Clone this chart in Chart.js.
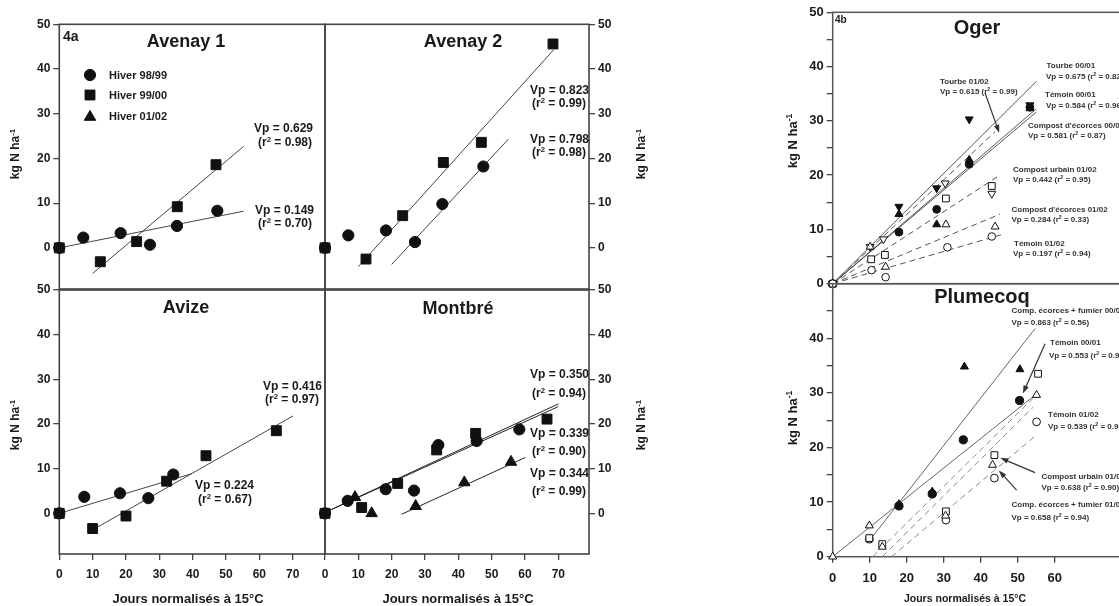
<!DOCTYPE html>
<html lang="fr">
<head>
<meta charset="UTF-8">
<title>Minéralisation de l'azote - Vp</title>
<script src="https://cdnjs.cloudflare.com/ajax/libs/Chart.js/4.4.1/chart.umd.min.js"></script>
<style>
  html, body { margin: 0; padding: 0; width: 1119px; height: 606px; overflow: hidden; background: #fff; }
  #stage { position: relative; width: 1119px; height: 606px; overflow: hidden; font-family: "Liberation Sans", Arial, sans-serif; }
  #stage canvas { position: absolute; left: 0; top: 0; }
  .lbl { position: absolute; white-space: nowrap; line-height: 1; font-weight: bold; color: #1a1a1a; transform: translateY(-50%); }
  .lbl.c { transform: translate(-50%, -50%); }
  .lbl.rot { transform: translate(-50%, -50%) rotate(-90deg); }
  .lbl.small { color: #333; }
  sup { font-size: 65%; vertical-align: 0.5em; line-height: 0; }
</style>
</head>
<body>
<div id="stage">
  <canvas id="avenay1" width="1200" height="606"></canvas>
  <canvas id="avenay2" width="1200" height="606"></canvas>
  <canvas id="avize" width="1200" height="606"></canvas>
  <canvas id="montbre" width="1200" height="606"></canvas>
  <canvas id="oger" width="1200" height="606"></canvas>
  <canvas id="plumecoq" width="1200" height="606"></canvas>
</div>
<script>
// ---------- ticks ----------
const xTicks4a = [0, 10, 20, 30, 40, 50, 60, 70];
const yTicks4a = [0, 10, 20, 30, 40, 50];
const xTicks4b = [0, 10, 20, 30, 40, 50, 60];
const yTicks4b = [0, 5, 10, 15, 20, 25, 30, 35, 40, 45, 50];
const yLabelsOger = [0, 10, 20, 30, 40, 50];
const yLabelsPlumecoq = [0, 10, 20, 30, 40];

// ---------- 4a : Avenay 1 ----------
const av1Hiver9899 = [[0, 0], [7.2, 2.3], [18.4, 3.3], [27.2, 0.7], [35.3, 4.9], [47.4, 8.3]];
const av1Hiver9900 = [[0, 0], [12.3, -3.1], [23.2, 1.4], [35.4, 9.2], [47.0, 18.6]];
const av1Fit9899 = [[0, 0], [55.3, 8.2]];
const av1Fit9900 = [[10.0, -5.7], [55.3, 22.7]];

// ---------- 4a : Avenay 2 ----------
const av2Hiver9899 = [[0, 0], [7.0, 2.8], [18.3, 3.9], [27.0, 1.3], [35.2, 9.8], [47.5, 18.2]];
const av2Hiver9900 = [[0, 0], [12.3, -2.5], [23.3, 7.2], [35.5, 19.1], [46.9, 23.6], [68.4, 45.6]];
const av2Fit9900 = [[10.0, -4.2], [68.6, 44.3]];
const av2Fit9899 = [[20.0, -3.7], [55.0, 24.3]];

// ---------- 4a : Avize ----------
const avzHiver9899 = [[0, 0], [7.5, 3.7], [18.2, 4.5], [26.7, 3.4], [34.2, 8.7]];
const avzHiver9900 = [[0, 0], [10.0, -3.4], [20.0, -0.6], [32.2, 7.2], [44.0, 12.9], [65.1, 18.5]];
const avzFit9899 = [[0, 0], [39.8, 8.9]];
const avzFit9900 = [[10.0, -3.7], [70.1, 21.8]];

// ---------- 4a : Montbré ----------
const mtbHiver9899 = [[0, 0], [6.8, 2.8], [18.2, 5.4], [26.7, 5.1], [34.0, 15.3], [45.5, 16.2], [58.3, 18.8]];
const mtbHiver9900 = [[0, 0], [11.0, 1.3], [21.8, 6.7], [33.5, 14.2], [45.2, 17.9], [66.6, 21.1]];
const mtbHiver0102 = [[9.0, 3.6], [14.0, 0.0], [27.2, 1.6], [41.8, 6.9], [55.8, 11.5]];
const mtbFit9900 = [[0, 0.2], [70.0, 24.5]];
const mtbFit9899 = [[0, 0.2], [70.0, 23.9]];
const mtbFit0102 = [[23.0, -0.2], [60.1, 12.5]];

// ---------- 4b : Oger ----------
const ogTemoin0001 = [[0, 0], [17.9, 9.5], [28.1, 13.7], [36.9, 22.0], [53.3, 32.5]];
const ogCompEcorces0001 = [[0, 0], [17.9, 12.8], [28.1, 10.9], [36.9, 22.8], [53.3, 32.3]];
const ogTourbe0001 = [[0, 0], [17.9, 14.2], [28.1, 17.6], [36.9, 30.3], [53.3, 32.9]];
const ogTemoin0102 = [[0, 0], [10.5, 2.5], [14.3, 1.2], [31.0, 6.7], [43.0, 8.7]];
const ogCompEcorces0102 = [[0, 0], [10.1, 6.8], [14.3, 3.1], [30.6, 10.9], [43.9, 10.5]];
const ogCompUrbain0102 = [[0, 0], [10.4, 4.5], [14.1, 5.3], [30.6, 15.7], [43.0, 18.0]];
const ogTourbe0102 = [[0, 0], [10.1, 6.8], [13.7, 8.2], [30.4, 18.5], [43.0, 16.6]];
const ogFitTourbe0001 = [[0, 0], [55.1, 37.3]];
const ogFitTemoin0001 = [[0, 0], [55.0, 32.2]];
const ogFitCompEcorces0001 = [[0, 0], [55.0, 31.6]];
const ogFitTourbe0102 = [[0, 0], [43.9, 28.0]];
const ogFitCompUrbain0102 = [[0, 0], [45.2, 20.0]];
const ogFitCompEcorces0102 = [[0, 0], [45.2, 12.8]];
const ogFitTemoin0102 = [[0, 0], [45.5, 9.0]];
const ogArrows = [[[41.2, 35.1], [45.0, 27.8]]];

// ---------- 4b : Plumecoq ----------
const pqCEF0001 = [[17.9, 9.6], [26.9, 11.9], [35.6, 34.8], [50.6, 34.3]];
const pqTemoin0001 = [[17.9, 9.3], [26.9, 11.5], [35.3, 21.4], [50.5, 28.6]];
const pqTemoin0102 = [[9.9, 3.2], [30.6, 6.7], [43.7, 14.4], [55.1, 24.7]];
const pqCompUrbain0102 = [[9.9, 3.4], [13.4, 2.3], [30.6, 8.3], [43.7, 18.6], [55.5, 33.5]];
const pqCEF0102 = [[0, 0], [9.9, 5.7], [13.4, 1.8], [30.5, 7.5], [43.2, 16.8], [55.1, 29.6]];
const pqFitCEF0001 = [[10.0, 3.0], [54.7, 41.8]];
const pqFitTemoin0001 = [[0, 0], [54.7, 29.6]];
const pqFitCompUrbain0102 = [[10.8, 0], [54.1, 29.0]];
const pqFitCEF0102 = [[13.4, 0], [54.2, 27.4]];
const pqFitTemoin0102 = [[15.9, 0], [55.1, 22.3]];
const pqArrows = [
  [[57.4, 39.0], [51.4, 29.9]],
  [[54.7, 15.4], [45.3, 18.1]],
  [[49.7, 12.2], [44.9, 15.8]]
];

// ---------- helpers ----------
const FONT = '"Liberation Sans", Arial, sans-serif';
const CW = 1200, CH = 606, AXIS_W = 40, AXIS_H = 30;
const SYM = {
  circle: ['circle', 0],
  square: ['rect', 0],
  up: ['triangle', 0],
  down: ['triangle', 180]
};

const toXY = arr => arr.map(p => ({ x: p[0], y: p[1] }));

function dots(arr, sym, r, filled) {
  return {
    data: toXY(arr),
    pointStyle: SYM[sym][0],
    pointRotation: SYM[sym][1],
    pointRadius: r,
    pointBackgroundColor: filled ? '#111' : '#fff',
    pointBorderColor: '#111',
    pointBorderWidth: 1,
    showLine: false,
    clip: false,
    order: 1
  };
}

function fit(arr, dashed, color) {
  return {
    data: toXY(arr),
    showLine: true,
    borderColor: color || '#444',
    borderWidth: 1,
    borderDash: dashed ? [6, 4] : [],
    pointRadius: 0,
    clip: false,
    order: 2
  };
}

function framePlugin(color, width) {
  return {
    id: 'frame',
    beforeDatasetsDraw(chart) {
      const a = chart.chartArea, ctx = chart.ctx;
      ctx.save();
      ctx.strokeStyle = color;
      ctx.lineWidth = width;
      ctx.strokeRect(a.left, a.top, a.right - a.left, a.bottom - a.top);
      ctx.restore();
    }
  };
}

function arrowPlugin(list) {
  return {
    id: 'arrows',
    afterDatasetsDraw(chart) {
      const { ctx, scales: { x, y } } = chart;
      list.forEach(([from, to]) => {
        const x1 = x.getPixelForValue(from[0]), y1 = y.getPixelForValue(from[1]);
        const x2 = x.getPixelForValue(to[0]), y2 = y.getPixelForValue(to[1]);
        const a = Math.atan2(y2 - y1, x2 - x1), c = Math.cos(a), s = Math.sin(a);
        ctx.save();
        ctx.strokeStyle = ctx.fillStyle = '#333';
        ctx.lineWidth = 1.2;
        ctx.beginPath();
        ctx.moveTo(x1, y1);
        ctx.lineTo(x2 - 5 * c, y2 - 5 * s);
        ctx.stroke();
        ctx.beginPath();
        ctx.moveTo(x2, y2);
        ctx.lineTo(x2 - 8 * c + 2.8 * s, y2 - 8 * s - 2.8 * c);
        ctx.lineTo(x2 - 8 * c - 2.8 * s, y2 - 8 * s + 2.8 * c);
        ctx.closePath();
        ctx.fill();
        ctx.restore();
      });
    }
  };
}

// legend symbols of figure 4a
function keyPlugin(items) {
  return {
    id: 'key',
    afterDraw(chart) {
      const ctx = chart.ctx;
      items.forEach(it => {
        ctx.save();
        ctx.fillStyle = ctx.strokeStyle = '#111';
        Chart.helpers.drawPoint(ctx, { pointStyle: SYM[it.sym][0], rotation: 0, radius: it.r, borderWidth: 1 }, it.x, it.y);
        ctx.restore();
      });
    }
  };
}

function panel(id, area, cfg) {
  const yRight = cfg.yPos === 'right';
  const showX = !!cfg.xTicks;
  const fixSize = s => {
    if (!s.options.display) return;
    if (s.isHorizontal()) s.height = AXIS_H; else s.width = AXIS_W;
    s.paddingLeft = s.paddingRight = s.paddingTop = s.paddingBottom = 0;
  };
  const tickFont = { family: FONT, size: cfg.tickSize, weight: 'bold' };
  const grid = { drawOnChartArea: false, tickLength: cfg.tickLen, color: '#444', lineWidth: 1.3 };
  return new Chart(document.getElementById(id), {
    type: 'scatter',
    data: { datasets: cfg.datasets },
    options: {
      responsive: false,
      animation: false,
      events: [],
      layout: {
        padding: {
          left: area.left - (yRight ? 0 : AXIS_W),
          right: CW - area.right - (yRight ? AXIS_W : 0),
          top: area.top,
          bottom: CH - area.bottom - (showX ? AXIS_H : 0)
        }
      },
      plugins: { legend: { display: false }, tooltip: { enabled: false } },
      scales: {
        x: {
          type: 'linear', display: showX, min: cfg.xMin, max: cfg.xMax,
          afterBuildTicks: s => { s.ticks = (cfg.xTicks || []).map(v => ({ value: v })); },
          afterFit: fixSize,
          ticks: { font: tickFont, color: '#1a1a1a', padding: cfg.xPad, autoSkip: false, maxRotation: 0 },
          grid: grid,
          border: { display: false }
        },
        y: {
          type: 'linear', position: cfg.yPos, min: cfg.yMin, max: cfg.yMax,
          afterBuildTicks: s => { s.ticks = cfg.yTicks.map(v => ({ value: v })); },
          afterFit: fixSize,
          ticks: {
            font: tickFont, color: '#1a1a1a', padding: 3, autoSkip: false,
            callback: v => cfg.yLabels.includes(v) ? String(v) : ''
          },
          grid: grid,
          border: { display: false }
        }
      }
    },
    plugins: [framePlugin(cfg.frameColor, cfg.frameWidth), arrowPlugin(cfg.arrows || []), keyPlugin(cfg.key || [])]
  });
}

// ---------- figure 4a ----------
const base4a = { tickSize: 12, tickLen: 6, xPad: 7, frameColor: '#444', frameWidth: 1.6, yTicks: yTicks4a, yLabels: yTicks4a };
const R_C = 5.6, R_S = 7, R_T = 6.6;

panel('avenay1', { left: 59.3, right: 325, top: 24.3, bottom: 289 }, Object.assign({}, base4a, {
  yPos: 'left', xMin: 0, xMax: 79.7, yMin: -9.2, yMax: 50,
  key: [{ sym: 'circle', r: R_C, x: 90, y: 75 }, { sym: 'square', r: R_S, x: 90, y: 95 }, { sym: 'up', r: R_T, x: 90, y: 117 }],
  datasets: [
    dots(av1Hiver9899, 'circle', R_C, true), dots(av1Hiver9900, 'square', R_S, true),
    fit(av1Fit9899), fit(av1Fit9900)
  ]
}));

panel('avenay2', { left: 325, right: 589, top: 24.3, bottom: 289 }, Object.assign({}, base4a, {
  yPos: 'right', xMin: 0, xMax: 79.2, yMin: -9.2, yMax: 50,
  datasets: [
    dots(av2Hiver9899, 'circle', R_C, true), dots(av2Hiver9900, 'square', R_S, true),
    fit(av2Fit9900), fit(av2Fit9899)
  ]
}));

panel('avize', { left: 59.3, right: 325, top: 290, bottom: 554 }, Object.assign({}, base4a, {
  yPos: 'left', xMin: 0, xMax: 79.7, yMin: -9.1, yMax: 50, xTicks: xTicks4a,
  datasets: [
    dots(avzHiver9899, 'circle', R_C, true), dots(avzHiver9900, 'square', R_S, true),
    fit(avzFit9899), fit(avzFit9900)
  ]
}));

panel('montbre', { left: 325, right: 589, top: 290, bottom: 554 }, Object.assign({}, base4a, {
  yPos: 'right', xMin: 0, xMax: 79.2, yMin: -9.1, yMax: 50, xTicks: xTicks4a,
  datasets: [
    dots(mtbHiver0102, 'up', R_T, true), dots(mtbHiver9900, 'square', R_S, true), dots(mtbHiver9899, 'circle', R_C, true),
    fit(mtbFit9900, false, '#222'), fit(mtbFit9899, false, '#222'), fit(mtbFit0102, false, '#222')
  ]
}));

// ---------- figure 4b ----------
const base4b = { tickSize: 13, tickLen: 6, xPad: 8, frameColor: '#555', frameWidth: 1.5, yTicks: yTicks4b, yPos: 'left', xMin: 0, xMax: 80, yMin: 0, yMax: 50 };

panel('oger', { left: 832.7, right: 1128.7, top: 12.3, bottom: 283.7 }, Object.assign({}, base4b, {
  yLabels: yLabelsOger,
  arrows: ogArrows,
  datasets: [
    dots(ogTemoin0102, 'circle', 3.8, false), dots(ogCompEcorces0102, 'up', 4.6, false),
    dots(ogCompUrbain0102, 'square', 4.8, false), dots(ogTourbe0102, 'down', 4.6, false),
    dots(ogTemoin0001, 'circle', 3.9, true), dots(ogCompEcorces0001, 'up', 4.6, true),
    dots(ogTourbe0001, 'down', 4.6, true),
    fit(ogFitTourbe0001, false, '#555'), fit(ogFitTemoin0001, false, '#555'), fit(ogFitCompEcorces0001, false, '#555'),
    fit(ogFitTourbe0102, true, '#555'), fit(ogFitCompUrbain0102, true, '#555'),
    fit(ogFitCompEcorces0102, true, '#555'), fit(ogFitTemoin0102, true, '#555')
  ]
}));

panel('plumecoq', { left: 832.7, right: 1128.7, top: 283.7, bottom: 556.7 }, Object.assign({}, base4b, {
  yLabels: yLabelsPlumecoq, xTicks: xTicks4b,
  arrows: pqArrows,
  datasets: [
    dots(pqCEF0102, 'up', 4.6, false), dots(pqCompUrbain0102, 'square', 4.8, false),
    dots(pqTemoin0102, 'circle', 3.9, false),
    dots(pqTemoin0001, 'circle', 4.1, true), dots(pqCEF0001, 'up', 4.6, true),
    fit(pqFitCEF0001, false, '#666'), fit(pqFitTemoin0001, false, '#666'),
    fit(pqFitCompUrbain0102, true, '#888'), fit(pqFitCEF0102, true, '#888'), fit(pqFitTemoin0102, true, '#888')
  ]
}));

// ---------- texts ----------
const R2 = v => '(r<sup>2</sup> = ' + v + ')';
const KG = 'kg N ha<sup>-1</sup>';
const JOURS = 'Jours normalisés à 15°C';
// [html, x, y, size, kind]   kind: l = left/middle, c = centred, r = rotated, s = small note
const notes = [
  ['4a', 63, 36, 14, 'l'],
  ['Avenay 1', 186, 41, 18, 'c'],
  ['Avenay 2', 463, 41, 18, 'c'],
  ['Avize', 186, 307, 18, 'c'],
  ['Montbré', 458, 308, 18, 'c'],
  ['Hiver 98/99', 109, 75, 11, 'l'],
  ['Hiver 99/00', 109, 95, 11, 'l'],
  ['Hiver 01/02', 109, 116, 11, 'l'],
  ['Vp = 0.629', 254, 128, 12, 'l'], [R2('0.98'), 258, 141.5, 12, 'l'],
  ['Vp = 0.149', 255, 209.5, 12, 'l'], [R2('0.70'), 258, 223, 12, 'l'],
  ['Vp = 0.823', 530, 90, 12, 'l'], [R2('0.99'), 532, 103, 12, 'l'],
  ['Vp = 0.798', 530, 139, 12, 'l'], [R2('0.98'), 532, 152, 12, 'l'],
  ['Vp = 0.416', 263, 385.5, 12, 'l'], [R2('0.97'), 265, 399, 12, 'l'],
  ['Vp = 0.224', 195, 485, 12, 'l'], [R2('0.67'), 198, 499, 12, 'l'],
  ['Vp = 0.350', 530, 374, 12, 'l'], [R2('0.94'), 532, 392.5, 12, 'l'],
  ['Vp = 0.339', 530, 432.5, 12, 'l'], [R2('0.90'), 532, 451, 12, 'l'],
  ['Vp = 0.344', 530, 473, 12, 'l'], [R2('0.99'), 532, 491, 12, 'l'],
  [KG, 15, 154, 12, 'r'], [KG, 15, 425, 12, 'r'],
  [KG, 641, 154, 12, 'r'], [KG, 641, 425, 12, 'r'],
  [JOURS, 188, 598, 13, 'c'], [JOURS, 458, 598, 13, 'c'],

  ['4b', 835, 20, 10, 'l'],
  ['Oger', 977, 27, 20, 'c'],
  ['Plumecoq', 982, 296, 20, 'c'],
  [KG, 792, 141, 13, 'r'], [KG, 792, 418, 13, 'r'],
  [JOURS, 965, 598, 10.5, 'c'],
  ['Tourbe 00/01', 1046.5, 66, 8, 's'], ['Vp = 0.675 ' + R2('0.82'), 1046, 77, 8, 's'],
  ['Témoin 00/01', 1045, 95, 8, 's'], ['Vp = 0.584 ' + R2('0.96'), 1046, 105.5, 8, 's'],
  ['Compost d\'écorces 00/01', 1028, 125.5, 8, 's'], ['Vp = 0.581 ' + R2('0.87'), 1028, 136, 8, 's'],
  ['Tourbe 01/02', 940, 82, 8, 's'], ['Vp = 0.615 ' + R2('0.99'), 940, 92, 8, 's'],
  ['Compost urbain 01/02', 1013, 170, 8, 's'], ['Vp = 0.442 ' + R2('0.95'), 1013, 180, 8, 's'],
  ['Compost d\'écorces 01/02', 1011.5, 210, 8, 's'], ['Vp = 0.284 ' + R2('0.33'), 1011.5, 220, 8, 's'],
  ['Témoin 01/02', 1014, 243.5, 8, 's'], ['Vp = 0.197 ' + R2('0.94'), 1013, 253.5, 8, 's'],
  ['Comp. écorces + fumier 00/01', 1011.5, 310.5, 8, 's'], ['Vp = 0.863 ' + R2('0.56'), 1011.5, 323, 8, 's'],
  ['Témoin 00/01', 1050, 342.5, 8, 's'], ['Vp = 0.553 ' + R2('0.98'), 1049, 356, 8, 's'],
  ['Témoin 01/02', 1048, 415, 8, 's'], ['Vp = 0.539 ' + R2('0.94'), 1048, 426.5, 8, 's'],
  ['Compost urbain 01/02', 1041.5, 476.5, 8, 's'], ['Vp = 0.638 ' + R2('0.90'), 1041.5, 487.5, 8, 's'],
  ['Comp. écorces + fumier 01/02', 1011.5, 505, 8, 's'], ['Vp = 0.658 ' + R2('0.94'), 1011.5, 517.5, 8, 's']
];

const stage = document.getElementById('stage');
const kindClass = { l: 'lbl', c: 'lbl c', r: 'lbl rot', s: 'lbl small' };
notes.forEach(([html, x, y, size, kind]) => {
  const d = document.createElement('div');
  d.className = kindClass[kind];
  d.innerHTML = html;
  d.style.left = x + 'px';
  d.style.top = y + 'px';
  d.style.fontSize = size + 'px';
  stage.appendChild(d);
});
</script>
</body>
</html>
